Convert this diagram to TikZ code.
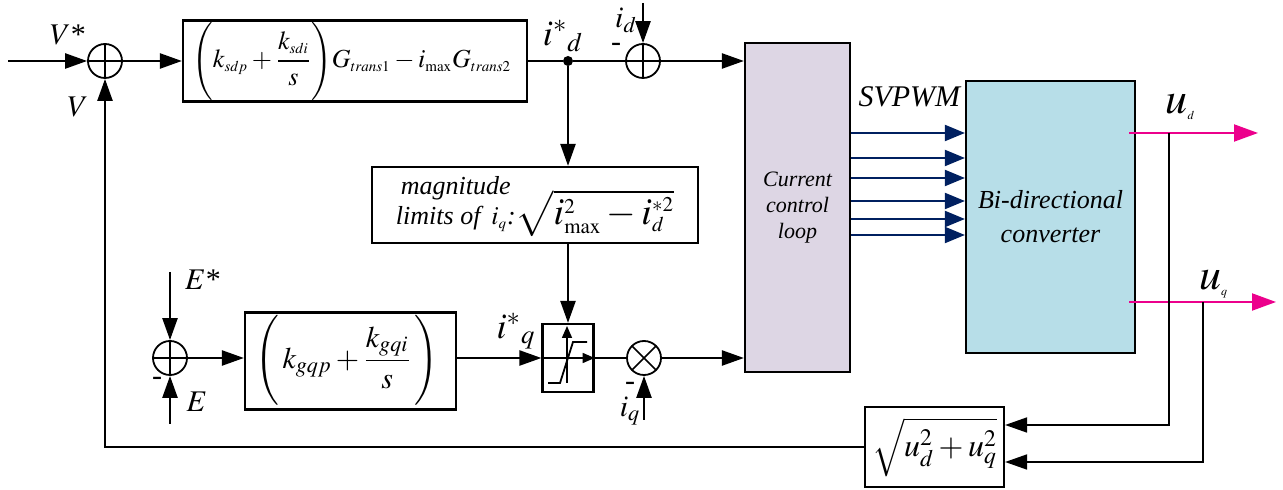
\documentclass[tikz,border=0pt]{standalone}
\usepackage{mathptmx}
\usepackage[no-math]{fontspec}
\setmainfont{Liberation Serif}
\usepackage{tikz}
\usetikzlibrary{arrows.meta, positioning, calc}
\definecolor{loopfill}{RGB}{221,214,228}
\definecolor{convfill}{RGB}{183,222,232}
\definecolor{pwmblue}{RGB}{0,32,96}
\DeclareMathSizes{13}{13}{7.5}{6}
\DeclareMathSizes{19}{19}{10.5}{8}

\begin{document}
\begin{tikzpicture}[
    x=0.5pt, y=-0.5pt,
    font=\fontsize{15}{17}\selectfont,
    % styles
    sig/.style={-{Triangle[length=11pt,width=7.5pt]}, line width=1.2pt},
    wire/.style={line width=1.2pt},
    block/.style={draw, line width=1.1pt, inner sep=0pt, align=center},
    sumnode/.style={
        draw, circle, line width=0.9pt, minimum size=17pt, inner sep=0pt,
        path picture={\draw[line width=0.8pt] (path picture bounding box.north) -- (path picture bounding box.south)
            (path picture bounding box.west) -- (path picture bounding box.east);}
    },
    multnode/.style={
        draw, circle, line width=0.9pt, minimum size=17pt, inner sep=0pt,
        path picture={\draw[line width=0.8pt] (path picture bounding box.north west) -- (path picture bounding box.south east)
            (path picture bounding box.north east) -- (path picture bounding box.south west);}
    },
    pwm/.style={-{Triangle[length=10pt,width=8pt]}, line width=1pt, pwmblue},
    outsig/.style={-{Triangle[length=12pt,width=8.5pt]}, line width=1pt, magenta},
    tap/.style={-{Triangle[length=11pt,width=7.5pt]}, line width=0.9pt},
    lbl/.style={inner sep=0pt}
]
    \useasboundingbox (0,0) rectangle (1283,490);

    % --- 1. VOLTAGE LOOP (top row) ---
    \coordinate (vin) at (8,61);
    \node[sumnode] (sum1) at (105,61) {};
    \node[lbl] (vstar) at (68,35) {$V$*};
    \node[lbl] (vlbl) at (78,107) {$V$};

    \node[block, minimum width=172pt, minimum height=40.5pt, font=\fontsize{13}{15}\selectfont] (blk1) at (355,61) {
        $\displaystyle\left(k_{sdp}+\frac{k_{sdi}}{s}\vrule height 17pt depth 15pt width 0pt\right)\!G_{trans1}-i_{\max}G_{trans2}$
    };

    \node[circle, fill, minimum size=5pt, inner sep=0pt] (dot) at (568,61) {};
    \node[lbl, font=\fontsize{18}{18}\selectfont] (idstar) at (563,36) {$i^{*}{}_{d}$};

    \node[sumnode] (sum2) at (643,61) {};
    \coordinate (idin) at (643,3);
    \node[lbl] (idlbl) at (626,20) {$i_d$};
    \node[lbl] (minus1) at (616,47) {-};

    \draw[sig] (vin) -- (sum1);
    \draw[sig] (sum1) -- (blk1);
    \draw[wire] (blk1.east) -- (dot);
    \draw[wire] (dot) -- (sum2);
    \draw[sig] (idin) -- (sum2);

    % --- 2. CURRENT CONTROL LOOP ---
    \node[block, fill=loopfill, minimum width=52.5pt, minimum height=164.5pt,
        font=\itshape\fontsize{11}{13}\selectfont] (ccl) at (797.5,207.5) {Current\\control\\loop};
    \draw[sig] (sum2) -- (sum2 -| ccl.west);

    % --- 3. MAGNITUDE LIMIT & SATURATION ---
    \node[block, minimum width=163pt, minimum height=38pt, font=\itshape\fontsize{13}{15}\selectfont] (mag) at (535,205) {%
        \begin{tabular}[b]{@{}c@{}}magnitude\\limits of\, $i_q$:\end{tabular}{\fontsize{19}{19}\selectfont$\sqrt{i_{\max}^2-i_d^{*2}}$}%
    };
    \node[block, minimum width=25.5pt, minimum height=34pt] (sat) at (568,358) {};
    \draw[line width=0.9pt] ($(sat)+(-20,25)$) -- ($(sat)+(-8,25)$) -- ($(sat)+(5,-16)$) -- ($(sat)+(19,-16)$);
    \draw[-{Triangle[length=6pt,width=5pt]}, line width=0.8pt] (sat.west) -- (sat.east);
    \draw[-{Triangle[length=6pt,width=5pt]}, line width=0.8pt] ($(sat)+(-1,25)$) -- ($(sat)+(-1,-32)$);

    \draw[sig] (dot) -- (dot |- mag.north);
    \draw[sig] (mag.south -| sat) -- (sat.north);

    % --- 4. DC VOLTAGE LOOP (bottom row) ---
    \node[sumnode] (sum3) at (170,358) {};
    \coordinate (estarin) at (170,272);
    \coordinate (ein) at (170,424);
    \node[lbl] (estar) at (203,280) {$E$*};
    \node[lbl] (elbl) at (197,402) {$E$};
    \node[lbl] (minus3) at (157,381) {-};

    \node[block, minimum width=105.5pt, minimum height=48.5pt] (blk2) at (350.5,361) {
        $\displaystyle\left(\,k_{gqp}+\frac{k_{gqi}}{s}\vrule height 21pt depth 19pt width 0pt\,\right)$
    };
    \node[lbl, font=\fontsize{18}{18}\selectfont] (iqstar) at (516,331) {$i^{*}{}_{q}$};

    \node[multnode] (mult) at (644,358) {};
    \coordinate (iqin) at (644,420);
    \node[lbl] (iqlbl) at (630,411) {$i_q$};
    \node[lbl] (minus2) at (630,386) {-};

    \draw[sig] (estarin) -- (sum3);
    \draw[sig] (ein) -- (sum3);
    \draw[sig] (sum3) -- (sum3 -| blk2.west);
    \draw[sig] (blk2.east |- sat) -- (sat.west);
    \draw[wire] (sat.east) -- (mult);
    \draw[sig] (mult) -- (mult -| ccl.west);
    \draw[sig] (iqin) -- (mult);

    % --- 5. CONVERTER ---
    \node[block, fill=convfill, minimum width=84.5pt, minimum height=136pt,
        font=\itshape\fontsize{13}{17}\selectfont] (conv) at (1050.5,217) {Bi-directional\\converter};
    \node[lbl] (svpwm) at (910,97) {\textit{SVPWM}};
    \foreach \y in {133,158,178,201,219,235}
        \draw[pwm] (ccl.east |- 0,\y) -- (conv.west |- 0,\y);

    % outputs
    \coordinate (udout) at (1258,133);
    \coordinate (uqout) at (1276,302);
    \coordinate (udtap) at (1169,133);
    \coordinate (uqtap) at (1203,302);
    \draw[outsig] ($(conv.east |- udout)+(-7,0)$) -- (udout);
    \draw[outsig] ($(conv.east |- uqout)+(-7,0)$) -- (uqout);
    \node[lbl, font=\fontsize{22}{22}\selectfont] (udlbl) at (1180,107) {$u$\raisebox{-3pt}{\fontsize{6}{6}\selectfont$d$}};
    \node[lbl, font=\fontsize{22}{22}\selectfont] (uqlbl) at (1213,284) {$u$\raisebox{-3pt}{\fontsize{6}{6}\selectfont$q$}};

    % --- 6. FEEDBACK ---
    \node[block, minimum width=69.5pt, minimum height=40pt, font=\fontsize{16}{18}\selectfont] (sq) at (934.5,447) {$\sqrt{u_d^2+u_q^2}$};
    \draw[tap] (udtap) |- (sq.east |- 0,425);
    \draw[tap] (uqtap) |- (sq.east |- 0,462);
    \draw[sig] (sq.west) -| (sum1.south);

\end{tikzpicture}
\end{document}
